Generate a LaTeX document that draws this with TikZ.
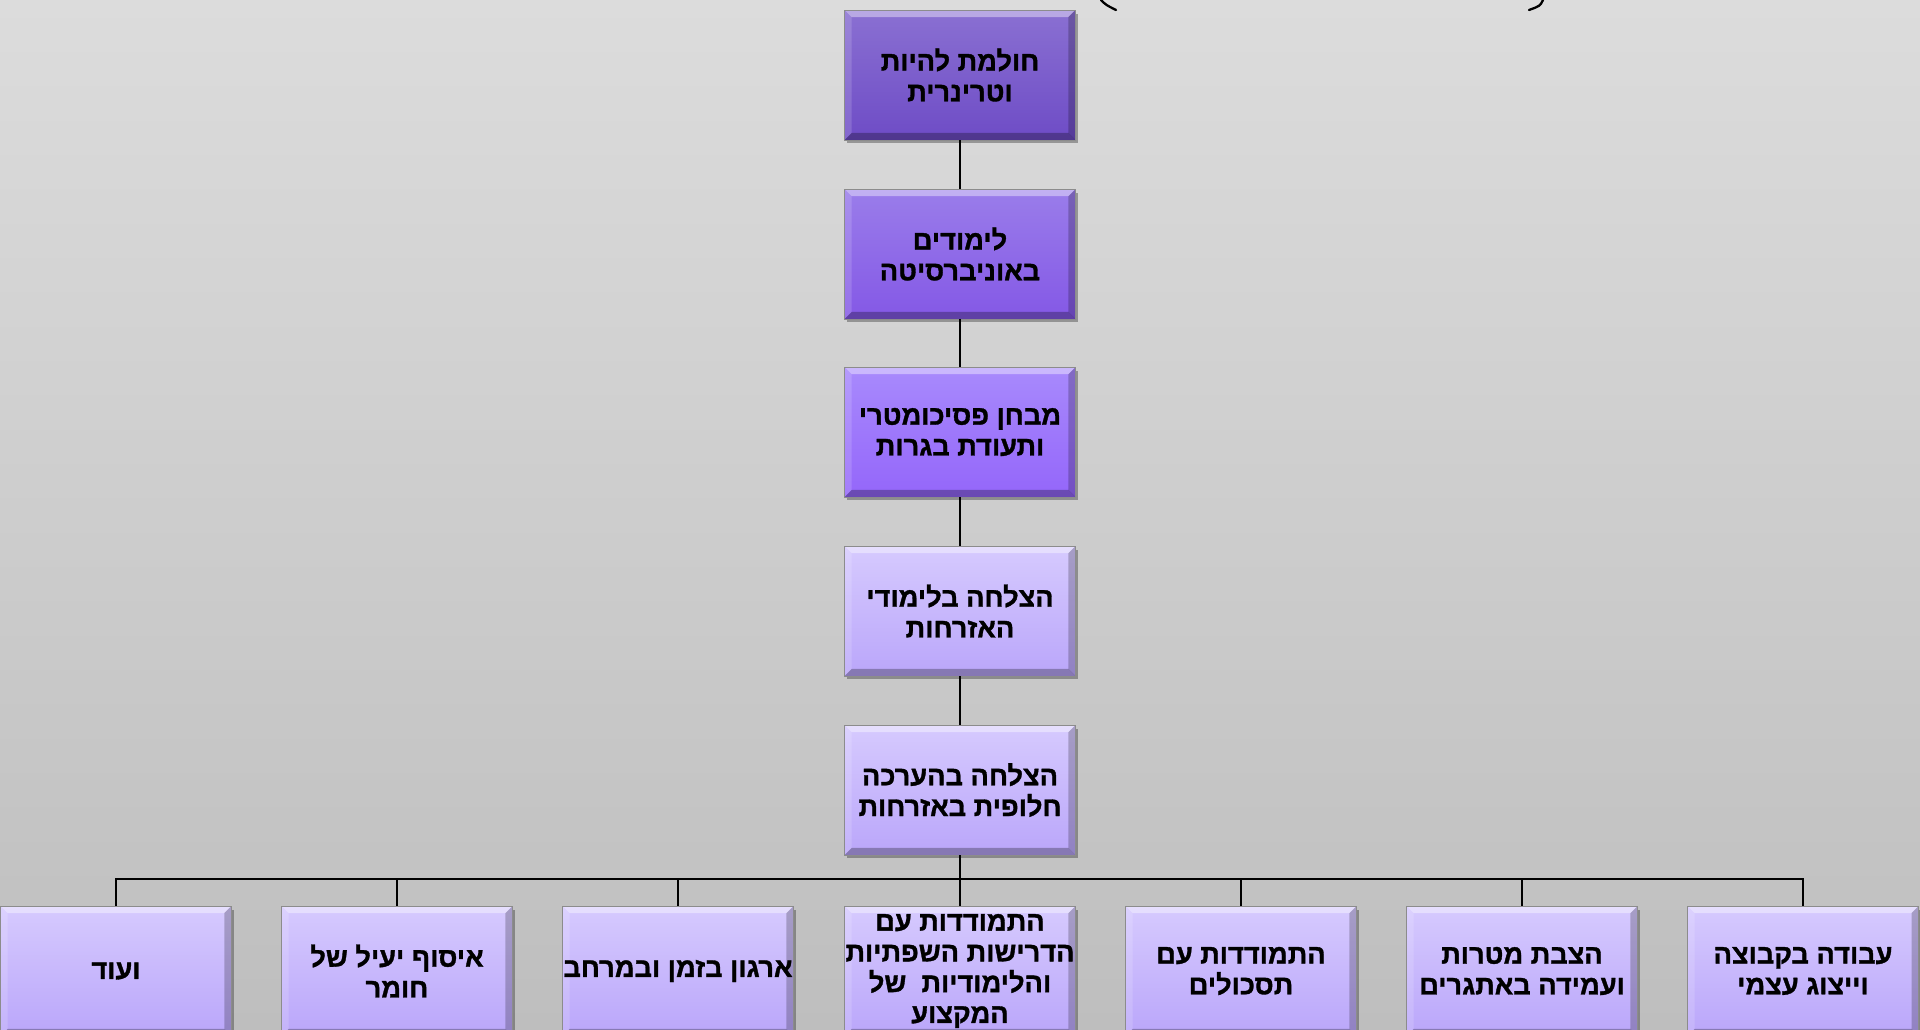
\documentclass[tikz,border=0pt]{standalone}
\usepackage{fontspec}
\usetikzlibrary{shadows,calc}
\TeXXeTstate=1
\newfontfamily\hebfont[Script=Hebrew, FakeBold=1.2]{Liberation Sans Bold}
\newcommand\rl[1]{\beginR#1\endR}
\definecolor{bgtop}{HTML}{DCDCDC}
\definecolor{bgbot}{HTML}{BEBEBE}
\definecolor{aTop}{HTML}{8A70D2}\definecolor{aBot}{HTML}{6E4CC6}
\definecolor{bTop}{HTML}{9A7DEA}\definecolor{bBot}{HTML}{8458E6}
\definecolor{cTop}{HTML}{A88AFC}\definecolor{cBot}{HTML}{9466FA}
\definecolor{dTop}{HTML}{D6CAFE}\definecolor{dBot}{HTML}{BAA6FA}
\newcommand\ppbb{path picture bounding box}
\tikzset{
  x=0.02cm, y=-0.02cm,
  bevelbox/.style={
    minimum width=4.62cm, minimum height=2.6cm, inner sep=0pt,
    align=center, text=black,
    font=\hebfont\fontsize{15.5}{17.5}\selectfont,
    draw=black!45, line width=0.3pt,
    drop shadow={shadow xshift=0.05cm, shadow yshift=-0.07cm, opacity=0.3, fill=black},
    path picture={
      \fill[white,opacity=0.4] (\ppbb.north west) -- (\ppbb.north east)
        -- ([xshift=-0.14cm,yshift=-0.14cm]\ppbb.north east)
        -- ([xshift=0.14cm,yshift=-0.14cm]\ppbb.north west) -- cycle;
      \fill[white,opacity=0.15] (\ppbb.north west) -- ([xshift=0.14cm,yshift=-0.14cm]\ppbb.north west)
        -- ([xshift=0.14cm,yshift=0.14cm]\ppbb.south west) -- (\ppbb.south west) -- cycle;
      \fill[black,opacity=0.22] (\ppbb.north east) -- (\ppbb.south east)
        -- ([xshift=-0.14cm,yshift=0.14cm]\ppbb.south east)
        -- ([xshift=-0.14cm,yshift=-0.14cm]\ppbb.north east) -- cycle;
      \fill[black,opacity=0.28] (\ppbb.south west) -- (\ppbb.south east)
        -- ([xshift=-0.14cm,yshift=0.14cm]\ppbb.south east)
        -- ([xshift=0.14cm,yshift=0.14cm]\ppbb.south west) -- cycle;
    }},
  boxA/.style={bevelbox, top color=aTop, bottom color=aBot},
  boxB/.style={bevelbox, top color=bTop, bottom color=bBot},
  boxC/.style={bevelbox, top color=cTop, bottom color=cBot},
  boxD/.style={bevelbox, top color=dTop, bottom color=dBot},
  link/.style={draw=black, line width=1.4pt},
  paren/.style={draw=black, line width=1.3pt, line cap=round}
}
\begin{document}
\begin{tikzpicture}
\useasboundingbox (0,0) rectangle (1920,1030);
\clip (0,0) rectangle (1920,1030);
\shade[top color=bgtop, bottom color=bgbot] (0,0) rectangle (1920,1030);

% cut-off parentheses at the top
\draw[paren] (1101,0) .. controls (1106,5) .. (1116,10);
\draw[paren] (1543,0) .. controls (1540,6) .. (1529,10);

% vertical chain
\node[boxA] (n1) at (960,75)  {\rl{חולמת להיות}\\\rl{וטרינרית}};
\node[boxB] (n2) at (960,254) {\rl{לימודים}\\\rl{באוניברסיטה}};
\node[boxC] (n3) at (960,432) {\rl{מבחן פסיכומטרי}\\\rl{ותעודת בגרות}};
\node[boxD] (n4) at (960,611) {\rl{הצלחה בלימודי}\\\rl{האזרחות}};
\node[boxD] (n5) at (960,790) {\rl{הצלחה בהערכה}\\\rl{חלופית באזרחות}};

% bottom row
\node[boxD] (b1) at (116,971)  {\rl{ועוד}};
\node[boxD] (b2) at (397,971)  {\rl{איסוף יעיל של}\\\rl{חומר}};
\node[boxD] (b3) at (678,971)  {\rl{ארגון בזמן ובמרחב}};
\node[boxD] (b4) at (960,971)  {\rl{התמודדות עם}\\\rl{הדרישות השפתיות}\\\rl{והלימודיות\ \ של}\\\rl{המקצוע}};
\node[boxD] (b5) at (1241,971) {\rl{התמודדות עם}\\\rl{תסכולים}};
\node[boxD] (b6) at (1522,971) {\rl{הצבת מטרות}\\\rl{ועמידה באתגרים}};
\node[boxD] (b7) at (1803,971) {\rl{עבודה בקבוצה}\\\rl{וייצוג עצמי}};

\coordinate (bus) at (960,879);

\draw[link] (n1.south) -- (n2.north);
\draw[link] (n2.south) -- (n3.north);
\draw[link] (n3.south) -- (n4.north);
\draw[link] (n4.south) -- (n5.north);
\draw[link] (n5.south) -- (bus);
\draw[link] (b1.north) -- (b1.north |- bus) -- (b7.north |- bus) -- (b7.north);
\foreach \b in {b2,b3,b4,b5,b6}{
  \draw[link] (\b.north) -- (\b.north |- bus);
}
\end{tikzpicture}
\end{document}
